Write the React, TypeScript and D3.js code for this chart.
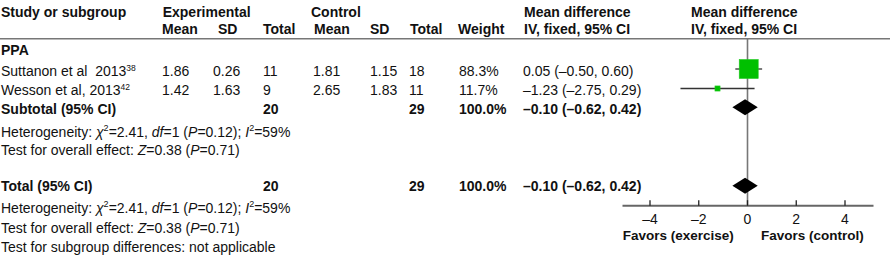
import React from "react";
import * as d3 from "d3";

const studyNames = ["Suttanon et al\u00A0 2013", "Wesson et al, 2013"];
const studyRefs = ["38", "42"];
const expMean = [1.86, 1.42];
const expSD = [0.26, 1.63];
const expTotal = [11, 9];
const ctlMean = [1.81, 2.65];
const ctlSD = [1.15, 1.83];
const ctlTotal = [18, 11];
const weights = [88.3, 11.7];
const meanDiff = [0.05, -1.23];
const ciLow = [-0.5, -2.75];
const ciHigh = [0.6, 0.29];

const pooledExpTotal = 20;
const pooledCtlTotal = 29;
const pooledWeight = 100.0;
const pooledMD = -0.1;
const pooledLow = -0.62;
const pooledHigh = 0.42;

const chi2 = "2.41";
const dfVal = "1";
const hetP = "0.12";
const i2 = "59%";
const zVal = "0.38";
const zP = "0.71";

const tickValues = [-4, -2, 0, 2, 4];
const leftLabel = "Favors (exercise)";
const rightLabel = "Favors (control)";

const FONT = "'Liberation Sans', Arial, Helvetica, sans-serif";

const fmt = (v: number) => (v < 0 ? "\u2013" + Math.abs(v).toFixed(2) : v.toFixed(2));
const fmtCI = (m: number, lo: number, hi: number) => `${fmt(m)} (${fmt(lo)}, ${fmt(hi)})`;
const fmtTick = (v: number) => (v < 0 ? "\u2013" + Math.abs(v) : String(v));

const col = {
  study: 1,
  expMean: 162,
  expSD: 213,
  expTotal: 263,
  ctlMean: 313,
  ctlSD: 370,
  ctlTotal: 409,
  weight: 459,
  ci: 523,
  plotHead: 691,
};

export default function App() {
  const x = d3.scaleLinear().domain([-4, 4]).range([650, 845]);
  const size = d3.scalePow().exponent(0.65).domain([0, 88.3]).range([0, 19]);

  const rowY = [76, 95]; // text baselines for studies
  const markY = [69, 88.5];
  const subtotalY = 114;
  const subtotalMarkY = 107.3;
  const totalY = 190.7;
  const totalMarkY = 185.7;
  const axisY = 205.7;
  const headerLineY = 38.7;

  const fs = 14;
  const textCol = "#111";

  const diamond = (cy: number) => {
    const h = 8;
    return `M${x(pooledLow)},${cy} L${x(pooledMD)},${cy - h} L${x(pooledHigh)},${cy} L${x(pooledMD)},${cy + h} Z`;
  };

  const het = (y: number) => (
    <text x={col.study} y={y} fontSize={fs} fill={textCol}>
      Heterogeneity: <tspan fontStyle="italic">{"\u03C7"}</tspan>
      <tspan fontSize={9} dy={-6}>2</tspan>
      <tspan dy={6}>{`=${chi2}, `}</tspan>
      <tspan fontStyle="italic">df</tspan>
      {`=${dfVal} (`}
      <tspan fontStyle="italic">P</tspan>
      {`=${hetP}); `}
      <tspan fontStyle="italic">I</tspan>
      <tspan fontSize={9} dy={-6}>2</tspan>
      <tspan dy={6}>{`=${i2}`}</tspan>
    </text>
  );
  const overall = (y: number) => (
    <text x={col.study} y={y} fontSize={fs} fill={textCol}>
      Test for overall effect: <tspan fontStyle="italic">Z</tspan>
      {`=${zVal} (`}
      <tspan fontStyle="italic">P</tspan>
      {`=${zP})`}
    </text>
  );

  return (
    <svg
      width={890}
      height={258}
      style={{ position: "absolute", left: 0, top: 0, background: "#fff" }}
      fontFamily={FONT}
    >
      <rect width={890} height={258} fill="#fff" />
      {/* header */}
      <g fontWeight="bold" fontSize={fs} fill={textCol}>
        <text x={col.study} y={17.3}>Study or subgroup</text>
        <text x={162.7} y={17.3}>Experimental</text>
        <text x={311} y={17.3}>Control</text>
        <text x={col.expMean} y={34}>Mean</text>
        <text x={218} y={34}>SD</text>
        <text x={col.expTotal} y={34}>Total</text>
        <text x={col.ctlMean + 1} y={34}>Mean</text>
        <text x={col.ctlSD} y={34}>SD</text>
        <text x={col.ctlTotal + 1} y={34}>Total</text>
        <text x={col.weight - 1} y={34}>Weight</text>
        <text x={col.ci + 1} y={17.3}>Mean difference</text>
        <text x={col.ci + 1} y={34}>IV, fixed, 95% CI</text>
        <text x={col.plotHead} y={17.3}>Mean difference</text>
        <text x={col.plotHead} y={34}>IV, fixed, 95% CI</text>
        <text x={col.study} y={55}>PPA</text>
      </g>
      <line x1={0} x2={890} y1={headerLineY} y2={headerLineY} stroke="#777" strokeWidth={1.5} />

      {/* study rows */}
      {studyNames.map((name, i) => (
        <g key={name} fontSize={fs} fill={textCol}>
          <text x={col.study} y={rowY[i]}>
            {name}
            <tspan fontSize={8.5} dy={-5}>{studyRefs[i]}</tspan>
          </text>
          <text x={col.expMean} y={rowY[i]}>{expMean[i].toFixed(2)}</text>
          <text x={col.expSD} y={rowY[i]}>{expSD[i].toFixed(2)}</text>
          <text x={col.expTotal} y={rowY[i]}>{expTotal[i]}</text>
          <text x={col.ctlMean} y={rowY[i]}>{ctlMean[i].toFixed(2)}</text>
          <text x={col.ctlSD} y={rowY[i]}>{ctlSD[i].toFixed(2)}</text>
          <text x={col.ctlTotal} y={rowY[i]}>{ctlTotal[i]}</text>
          <text x={col.weight} y={rowY[i]}>{weights[i].toFixed(1)}%</text>
          <text x={col.ci} y={rowY[i]}>{fmtCI(meanDiff[i], ciLow[i], ciHigh[i])}</text>
        </g>
      ))}

      {/* subtotal */}
      <g fontSize={fs} fontWeight="bold" fill={textCol}>
        <text x={col.study} y={subtotalY}>Subtotal (95% CI)</text>
        <text x={col.expTotal} y={subtotalY}>{pooledExpTotal}</text>
        <text x={col.ctlTotal} y={subtotalY}>{pooledCtlTotal}</text>
        <text x={col.weight} y={subtotalY}>{pooledWeight.toFixed(1)}%</text>
        <text x={col.ci} y={subtotalY}>{fmtCI(pooledMD, pooledLow, pooledHigh)}</text>
      </g>
      {het(136.7)}
      {overall(155)}

      {/* total */}
      <g fontSize={fs} fontWeight="bold" fill={textCol}>
        <text x={col.study} y={totalY}>Total (95% CI)</text>
        <text x={col.expTotal} y={totalY}>{pooledExpTotal}</text>
        <text x={col.ctlTotal} y={totalY}>{pooledCtlTotal}</text>
        <text x={col.weight} y={totalY}>{pooledWeight.toFixed(1)}%</text>
        <text x={col.ci} y={totalY}>{fmtCI(pooledMD, pooledLow, pooledHigh)}</text>
      </g>
      {het(213.3)}
      {overall(233.3)}
      <text x={col.study} y={251.7} fontSize={fs} fill={textCol}>
        Test for subgroup differences: not applicable
      </text>

      {/* forest plot */}
      <line x1={x(0)} x2={x(0)} y1={headerLineY} y2={axisY} stroke="#777" strokeWidth={1.6} />
      {studyNames.map((name, i) => {
        const s = size(weights[i]);
        return (
          <g key={"f" + name}>
            <line x1={x(ciLow[i])} x2={x(ciHigh[i])} y1={markY[i]} y2={markY[i]} stroke="#333" strokeWidth={1.3} />
            <rect
              x={x(meanDiff[i]) - s / 2}
              y={markY[i] - s / 2}
              width={s}
              height={s}
              fill="#00c000"
              stroke="#22cc22"
              strokeWidth={0.6}
            />
          </g>
        );
      })}
      <path d={diamond(subtotalMarkY)} fill="#000" />
      <path d={diamond(totalMarkY)} fill="#000" />

      {/* axis */}
      <line x1={x.range()[0] - 27.5} x2={x.range()[1] + 28.5} y1={axisY} y2={axisY} stroke="#666" strokeWidth={2} />
      {tickValues.map((t) => (
        <g key={t}>
          <line x1={x(t)} x2={x(t)} y1={axisY - 5.5} y2={axisY} stroke="#222" strokeWidth={1.3} />
          <text x={x(t)} y={223.5} textAnchor="middle" fontSize={fs} fill={textCol}>
            {fmtTick(t)}
          </text>
        </g>
      ))}
      <text x={622.7} y={240} fontSize={13.5} fontWeight="bold" fill={textCol}>{leftLabel}</text>
      <text x={761} y={240} fontSize={13.5} fontWeight="bold" fill={textCol}>{rightLabel}</text>
    </svg>
  );
}
